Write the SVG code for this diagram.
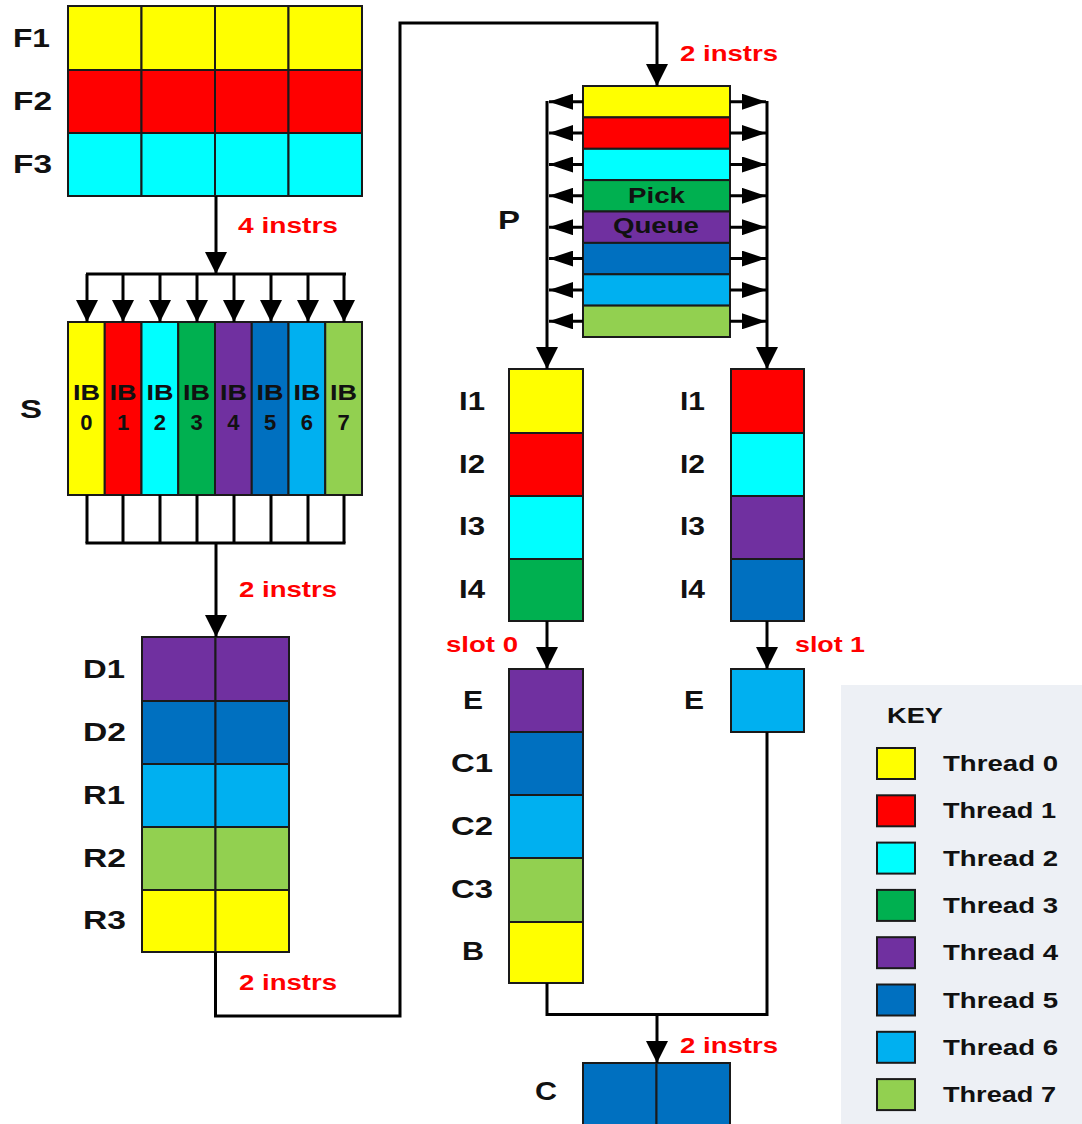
<svg xmlns="http://www.w3.org/2000/svg" width="1082" height="1124" viewBox="0 0 1082 1124">
  <style>
    .c { stroke: #1a1a1a; stroke-width: 2; }
    .y { fill: #FFFF00; } .r { fill: #FF0000; } .cy { fill: #00FFFF; } .g { fill: #00B050; }
    .pu { fill: #7030A0; } .b { fill: #0070C0; } .lb { fill: #00B0F0; } .lg { fill: #92D050; }
    text { font-family: "Liberation Sans", Arial, sans-serif; font-weight: bold; }
    .lbl { font-size: 26px; fill: #111; }
    .red { font-size: 22px; fill: #FF0000; }
    .ib { font-size: 22px; fill: #111; }
    .key { font-size: 22px; fill: #111; }
    .wire { fill: none; stroke: #000; stroke-width: 3; }
  </style>
  <defs>
    <marker id="ah" markerUnits="userSpaceOnUse" markerWidth="22" markerHeight="22" viewBox="0 0 22 22" refX="22" refY="11" orient="auto">
      <path d="M0,0 L22,11 L0,22 z" fill="#000"/>
    </marker>
    <marker id="ahs" markerUnits="userSpaceOnUse" markerWidth="24" markerHeight="16" viewBox="0 0 24 16" refX="24" refY="8" orient="auto">
      <path d="M0,0 L24,8 L0,16 z" fill="#000"/>
    </marker>
  </defs>

  <rect width="1082" height="1124" fill="#fff"/>

  <!-- Fetch stages -->
  <g id="fetch">
    <rect class="c y" x="68" y="6" width="73.5" height="64"/>
    <rect class="c y" x="141.5" y="6" width="73.5" height="64"/>
    <rect class="c y" x="215" y="6" width="73.5" height="64"/>
    <rect class="c y" x="288.5" y="6" width="73.5" height="64"/>
    <rect class="c r" x="68" y="70" width="73.5" height="63"/>
    <rect class="c r" x="141.5" y="70" width="73.5" height="63"/>
    <rect class="c r" x="215" y="70" width="73.5" height="63"/>
    <rect class="c r" x="288.5" y="70" width="73.5" height="63"/>
    <rect class="c cy" x="68" y="133" width="73.5" height="63"/>
    <rect class="c cy" x="141.5" y="133" width="73.5" height="63"/>
    <rect class="c cy" x="215" y="133" width="73.5" height="63"/>
    <rect class="c cy" x="288.5" y="133" width="73.5" height="63"/>
    <text class="lbl" x="13" y="47" textLength="37" lengthAdjust="spacingAndGlyphs">F1</text>
    <text class="lbl" x="13" y="110" textLength="39" lengthAdjust="spacingAndGlyphs">F2</text>
    <text class="lbl" x="13" y="173" textLength="39" lengthAdjust="spacingAndGlyphs">F3</text>
  </g>

  <!-- Select stage: instruction buffers -->
  <g id="select">
    <rect class="c y" x="68" y="322" width="36.75" height="173"/>
    <rect class="c r" x="104.75" y="322" width="36.75" height="173"/>
    <rect class="c cy" x="141.5" y="322" width="36.75" height="173"/>
    <rect class="c g" x="178.25" y="322" width="36.75" height="173"/>
    <rect class="c pu" x="215" y="322" width="36.75" height="173"/>
    <rect class="c b" x="251.75" y="322" width="36.75" height="173"/>
    <rect class="c lb" x="288.5" y="322" width="36.75" height="173"/>
    <rect class="c lg" x="325.25" y="322" width="36.75" height="173"/>
    <g class="ib" text-anchor="middle">
      <text x="86.4" y="400" textLength="27" lengthAdjust="spacingAndGlyphs">IB</text>
      <text x="123.1" y="400" textLength="27" lengthAdjust="spacingAndGlyphs">IB</text>
      <text x="159.9" y="400" textLength="27" lengthAdjust="spacingAndGlyphs">IB</text>
      <text x="196.6" y="400" textLength="27" lengthAdjust="spacingAndGlyphs">IB</text>
      <text x="233.4" y="400" textLength="27" lengthAdjust="spacingAndGlyphs">IB</text>
      <text x="270.1" y="400" textLength="27" lengthAdjust="spacingAndGlyphs">IB</text>
      <text x="306.9" y="400" textLength="27" lengthAdjust="spacingAndGlyphs">IB</text>
      <text x="343.6" y="400" textLength="27" lengthAdjust="spacingAndGlyphs">IB</text>
      <text x="86.4" y="430">0</text>
      <text x="123.1" y="430">1</text>
      <text x="159.9" y="430">2</text>
      <text x="196.6" y="430">3</text>
      <text x="233.4" y="430">4</text>
      <text x="270.1" y="430">5</text>
      <text x="306.9" y="430">6</text>
      <text x="343.6" y="430">7</text>
    </g>
    <text class="lbl" x="20" y="418" textLength="22" lengthAdjust="spacingAndGlyphs">S</text>
  </g>

  <!-- Decode / register stages -->
  <g id="decode">
    <rect class="c pu" x="142" y="637" width="73.5" height="64"/>
    <rect class="c pu" x="215.5" y="637" width="73.5" height="64"/>
    <rect class="c b" x="142" y="701" width="73.5" height="63"/>
    <rect class="c b" x="215.5" y="701" width="73.5" height="63"/>
    <rect class="c lb" x="142" y="764" width="73.5" height="63"/>
    <rect class="c lb" x="215.5" y="764" width="73.5" height="63"/>
    <rect class="c lg" x="142" y="827" width="73.5" height="63"/>
    <rect class="c lg" x="215.5" y="827" width="73.5" height="63"/>
    <rect class="c y" x="142" y="890" width="73.5" height="62"/>
    <rect class="c y" x="215.5" y="890" width="73.5" height="62"/>
    <text class="lbl" x="83" y="678" textLength="42" lengthAdjust="spacingAndGlyphs">D1</text>
    <text class="lbl" x="83" y="741" textLength="43" lengthAdjust="spacingAndGlyphs">D2</text>
    <text class="lbl" x="83" y="804" textLength="42" lengthAdjust="spacingAndGlyphs">R1</text>
    <text class="lbl" x="83" y="867" textLength="43" lengthAdjust="spacingAndGlyphs">R2</text>
    <text class="lbl" x="83" y="929" textLength="43" lengthAdjust="spacingAndGlyphs">R3</text>
  </g>

  <!-- Pick queue -->
  <g id="pick-queue">
    <rect class="c y" x="583" y="86" width="147" height="31.4"/>
    <rect class="c r" x="583" y="117.4" width="147" height="31.4"/>
    <rect class="c cy" x="583" y="148.8" width="147" height="31.4"/>
    <rect class="c g" x="583" y="180.1" width="147" height="31.4"/>
    <rect class="c pu" x="583" y="211.5" width="147" height="31.4"/>
    <rect class="c b" x="583" y="242.9" width="147" height="31.4"/>
    <rect class="c lb" x="583" y="274.3" width="147" height="31.4"/>
    <rect class="c lg" x="583" y="305.6" width="147" height="31.4"/>
    <text class="ib" x="628" y="203" textLength="57" lengthAdjust="spacingAndGlyphs">Pick</text>
    <text class="ib" x="613" y="233" textLength="86" lengthAdjust="spacingAndGlyphs">Queue</text>
    <text class="lbl" x="498" y="229" textLength="22" lengthAdjust="spacingAndGlyphs">P</text>
  </g>

  <!-- Issue slot 0 -->
  <g id="issue-slot0">
    <rect class="c y" x="509" y="369" width="74" height="64"/>
    <rect class="c r" x="509" y="433" width="74" height="63"/>
    <rect class="c cy" x="509" y="496" width="74" height="63"/>
    <rect class="c g" x="509" y="559" width="74" height="62"/>
    <text class="lbl" x="459" y="410" textLength="26" lengthAdjust="spacingAndGlyphs">I1</text>
    <text class="lbl" x="459" y="473" textLength="26" lengthAdjust="spacingAndGlyphs">I2</text>
    <text class="lbl" x="459" y="535" textLength="26" lengthAdjust="spacingAndGlyphs">I3</text>
    <text class="lbl" x="459" y="598" textLength="26" lengthAdjust="spacingAndGlyphs">I4</text>
  </g>

  <!-- Issue slot 1 -->
  <g id="issue-slot1">
    <rect class="c r" x="731" y="369" width="73" height="64"/>
    <rect class="c cy" x="731" y="433" width="73" height="63"/>
    <rect class="c pu" x="731" y="496" width="73" height="63"/>
    <rect class="c b" x="731" y="559" width="73" height="62"/>
    <text class="lbl" x="680" y="410" textLength="25" lengthAdjust="spacingAndGlyphs">I1</text>
    <text class="lbl" x="680" y="473" textLength="25" lengthAdjust="spacingAndGlyphs">I2</text>
    <text class="lbl" x="680" y="535" textLength="25" lengthAdjust="spacingAndGlyphs">I3</text>
    <text class="lbl" x="680" y="598" textLength="25" lengthAdjust="spacingAndGlyphs">I4</text>
  </g>

  <!-- Execute pipe, slot 0 -->
  <g id="exec-slot0">
    <rect class="c pu" x="509" y="669" width="74" height="63"/>
    <rect class="c b" x="509" y="732" width="74" height="63"/>
    <rect class="c lb" x="509" y="795" width="74" height="63"/>
    <rect class="c lg" x="509" y="858" width="74" height="64"/>
    <rect class="c y" x="509" y="922" width="74" height="61"/>
    <text class="lbl" x="463" y="709" textLength="20" lengthAdjust="spacingAndGlyphs">E</text>
    <text class="lbl" x="451" y="772" textLength="42" lengthAdjust="spacingAndGlyphs">C1</text>
    <text class="lbl" x="451" y="835" textLength="42" lengthAdjust="spacingAndGlyphs">C2</text>
    <text class="lbl" x="451" y="898" textLength="42" lengthAdjust="spacingAndGlyphs">C3</text>
    <text class="lbl" x="462" y="960" textLength="22" lengthAdjust="spacingAndGlyphs">B</text>
  </g>

  <!-- Execute pipe, slot 1 -->
  <g id="exec-slot1">
    <rect class="c lb" x="731" y="669" width="73" height="63"/>
    <text class="lbl" x="684" y="709" textLength="20" lengthAdjust="spacingAndGlyphs">E</text>
  </g>

  <!-- Commit stage -->
  <g id="commit">
    <rect class="c b" x="583" y="1063" width="73.5" height="70"/>
    <rect class="c b" x="656.5" y="1063" width="73.5" height="70"/>
    <text class="lbl" x="535" y="1100" textLength="22" lengthAdjust="spacingAndGlyphs">C</text>
  </g>

  <!-- Connectors -->
  <g id="connectors" class="wire">
    <path d="M216,196 V274" marker-end="url(#ah)"/>
    <path d="M86,274 H346"/>
    <path d="M87,274 V322" marker-end="url(#ah)"/>
    <path d="M123,274 V322" marker-end="url(#ah)"/>
    <path d="M160,274 V322" marker-end="url(#ah)"/>
    <path d="M197,274 V322" marker-end="url(#ah)"/>
    <path d="M234,274 V322" marker-end="url(#ah)"/>
    <path d="M271,274 V322" marker-end="url(#ah)"/>
    <path d="M308,274 V322" marker-end="url(#ah)"/>
    <path d="M344,274 V322" marker-end="url(#ah)"/>
    <path d="M87,495 V543 M123,495 V543 M160,495 V543 M197,495 V543 M234,495 V543 M271,495 V543 M308,495 V543 M344,495 V543"/>
    <path d="M85.5,543 H345.5"/>
    <path d="M216,543 V637" marker-end="url(#ah)"/>
    <path d="M215.5,952 V1016 H400 V23 H657 V86" marker-end="url(#ah)"/>
    <path d="M547,101 V369" marker-end="url(#ah)"/>
    <path d="M767,101 V369" marker-end="url(#ah)"/>
    <path d="M583,101.7 H549" marker-end="url(#ahs)"/>
    <path d="M583,133.1 H549" marker-end="url(#ahs)"/>
    <path d="M583,164.5 H549" marker-end="url(#ahs)"/>
    <path d="M583,195.8 H549" marker-end="url(#ahs)"/>
    <path d="M583,227.2 H549" marker-end="url(#ahs)"/>
    <path d="M583,258.6 H549" marker-end="url(#ahs)"/>
    <path d="M583,290 H549" marker-end="url(#ahs)"/>
    <path d="M583,321.3 H549" marker-end="url(#ahs)"/>
    <path d="M730,101.7 H766" marker-end="url(#ahs)"/>
    <path d="M730,133.1 H766" marker-end="url(#ahs)"/>
    <path d="M730,164.5 H766" marker-end="url(#ahs)"/>
    <path d="M730,195.8 H766" marker-end="url(#ahs)"/>
    <path d="M730,227.2 H766" marker-end="url(#ahs)"/>
    <path d="M730,258.6 H766" marker-end="url(#ahs)"/>
    <path d="M730,290 H766" marker-end="url(#ahs)"/>
    <path d="M730,321.3 H766" marker-end="url(#ahs)"/>
    <path d="M547,621 V669" marker-end="url(#ah)"/>
    <path d="M767,621 V669" marker-end="url(#ah)"/>
    <path d="M547,983 V1014.5 H767 V732"/>
    <path d="M657,1014.5 V1063" marker-end="url(#ah)"/>
  </g>

  <!-- Connector labels -->
  <g id="labels">
    <text class="red" x="238" y="233" textLength="100" lengthAdjust="spacingAndGlyphs">4 instrs</text>
    <text class="red" x="239" y="597" textLength="98" lengthAdjust="spacingAndGlyphs">2 instrs</text>
    <text class="red" x="239" y="990" textLength="98" lengthAdjust="spacingAndGlyphs">2 instrs</text>
    <text class="red" x="680" y="61" textLength="98" lengthAdjust="spacingAndGlyphs">2 instrs</text>
    <text class="red" x="680" y="1053" textLength="98" lengthAdjust="spacingAndGlyphs">2 instrs</text>
    <text class="red" x="446" y="652" textLength="72" lengthAdjust="spacingAndGlyphs">slot 0</text>
    <text class="red" x="795" y="652" textLength="70" lengthAdjust="spacingAndGlyphs">slot 1</text>
  </g>

  <!-- Legend -->
  <g id="legend">
    <rect x="841" y="685" width="241" height="439" fill="#EDF0F5"/>
    <text class="key" x="887" y="723" textLength="56" lengthAdjust="spacingAndGlyphs">KEY</text>
    <rect class="c y" x="877" y="748" width="38" height="31"/>
    <rect class="c r" x="877" y="795.3" width="38" height="31"/>
    <rect class="c cy" x="877" y="842.6" width="38" height="31"/>
    <rect class="c g" x="877" y="889.9" width="38" height="31"/>
    <rect class="c pu" x="877" y="937.2" width="38" height="31"/>
    <rect class="c b" x="877" y="984.5" width="38" height="31"/>
    <rect class="c lb" x="877" y="1031.8" width="38" height="31"/>
    <rect class="c lg" x="877" y="1079.1" width="38" height="31"/>
    <text class="key" x="943" y="771" textLength="115" lengthAdjust="spacingAndGlyphs">Thread 0</text>
    <text class="key" x="943" y="818.3" textLength="113" lengthAdjust="spacingAndGlyphs">Thread 1</text>
    <text class="key" x="943" y="865.6" textLength="115" lengthAdjust="spacingAndGlyphs">Thread 2</text>
    <text class="key" x="943" y="912.9" textLength="115" lengthAdjust="spacingAndGlyphs">Thread 3</text>
    <text class="key" x="943" y="960.2" textLength="115" lengthAdjust="spacingAndGlyphs">Thread 4</text>
    <text class="key" x="943" y="1007.5" textLength="115" lengthAdjust="spacingAndGlyphs">Thread 5</text>
    <text class="key" x="943" y="1054.8" textLength="115" lengthAdjust="spacingAndGlyphs">Thread 6</text>
    <text class="key" x="943" y="1102.1" textLength="113" lengthAdjust="spacingAndGlyphs">Thread 7</text>
  </g>
</svg>
